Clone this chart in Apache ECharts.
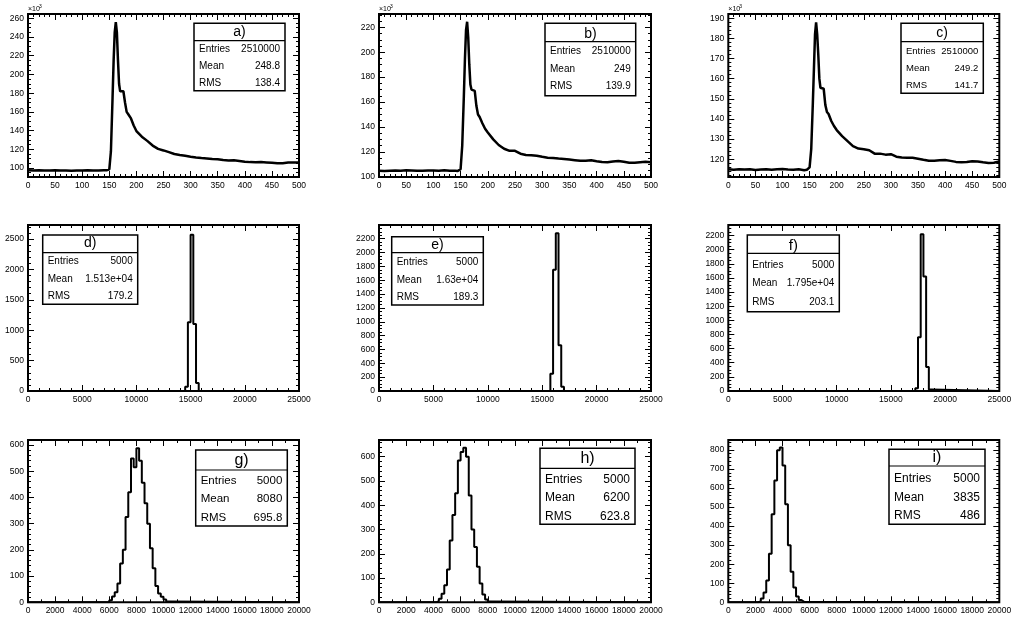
<!DOCTYPE html>
<html><head><meta charset="utf-8">
<script src="https://cdn.jsdelivr.net/npm/echarts@6/dist/echarts.min.js"></script>
<style>html,body{margin:0;padding:0;background:#fff}#c{width:1011px;height:617px}</style>
</head><body><div id="c"></div>
<script>
// ---------- DATA ----------
const curveX = [0,10,20,30,40,50,60,70,80,90,100,110,120,130,140,145,150,153,156,158,160,162,164,166,168,170,173,176,179,182,185,190,195,200,210,220,230,240,250,260,270,280,290,300,310,320,330,340,350,360,370,380,390,400,410,420,430,440,450,460,470,480,490,500];
const curveA = [97.6,97.4,97.5,97.3,97.4,97.5,97.3,97.4,97.2,97.4,97.3,97.5,97.3,97.4,97.6,97.5,98.5,118,175,215,245,256,245,215,190,182,183,182,170,160,157.5,153,145.5,139.5,133.5,129,124,120.5,118.8,117,115,114,113,112,111.2,110.6,110.2,109.6,109.3,108.5,108,108.2,107.5,106.8,106.3,106.2,106.3,106,105.7,105,105.2,105.9,106,106];
const curveB = [104.8,104.6,104.9,105.1,104.8,105.2,105,104.8,104.9,105.1,105,104.9,105.2,104.8,104.9,104.7,106,125,165,195,218,224.5,212,190,174,170,170.5,169,157,150,148,143,138.5,135.5,130,125.5,122.5,120.8,120.8,118.5,117.5,117.3,116.8,116,115.3,115,114.6,114.3,113.8,113.3,112.8,112.8,113.3,112.5,111.8,111.7,112.2,112.6,112,111.3,111.2,111.7,112,111.6];
const curveC = [115,114.8,115.1,114.9,115,114.7,114.9,115.1,114.8,115,115.2,114.9,114.8,115,114.6,114.8,116,125,148,165,182,188,182,172,160,155.5,155.8,155,147,143.5,142.5,139,136.5,134.5,131.5,129,126.5,125.3,125,124.5,122.8,122.8,122.3,122.5,121.3,120.9,120.8,120.7,120.3,119.8,119.3,119.3,119.5,119.6,119.2,118.7,118.5,118.6,119,118.9,118.5,118.2,118.3,118.9];

const binWidthMid = 250;   // histograms d, e, f
const binWidthLow = 200;   // histograms g, h, i
const dStart = 14500, dCounts = [70,1130,2570,1100,130];
const eStart = 15750, eCounts = [250,1750,2280,660,60];
const fStart = 17250, fCounts = [40,760,2220,1620,340,20];
const gStart = 6000,  gCounts = [8,22,38,72,148,200,325,420,548,515,588,540,456,378,300,206,130,62,34,21,11,3];
const hStart = 4200,  hCounts = [5,15,35,70,135,255,360,450,585,620,637,600,440,300,228,147,78,32,12,3];
const iStart = 2200,  iCounts = [5,20,52,115,255,462,640,798,812,718,515,300,160,78,30,12,3];

const titles = ['a)','b)','c)','d)','e)','f)','g)','h)','i)'];
const statsNames = ['Entries','Mean','RMS'];
const statsA = ['2510000','248.8','138.4'];
const statsB = ['2510000','249','139.9'];
const statsC = ['2510000','249.2','141.7'];
const statsD = ['5000','1.513e+04','179.2'];
const statsE = ['5000','1.63e+04','189.3'];
const statsF = ['5000','1.795e+04','203.1'];
const statsG = ['5000','8080','695.8'];
const statsH = ['5000','6200','623.8'];
const statsI = ['5000','3835','486'];
const expLabel = ['×10','3'];

// ---------- BUILD ----------
function histPoints(start, w, counts, xMin, xMax) {
  const pts = [[xMin, 0], [start, 0]];
  counts.forEach((c, k) => { pts.push([start + k * w, c]); pts.push([start + (k + 1) * w, c]); });
  pts.push([start + counts.length * w, 0]); pts.push([xMax, 0]);
  return pts;
}
const curvePts = ys => curveX.map((x, j) => [x, ys[j]]);

const panels = [
  {pts: curvePts(curveA), xMin:0, xMax:500, xInt:50, xMinor:5, yMin:90.4, yMax:264.6, ySplit:8, yMinor:4, exp:true, stats:statsA, lw:2.5},
  {pts: curvePts(curveB), xMin:0, xMax:500, xInt:50, xMinor:5, yMin:99.8, yMax:230.7, ySplit:6, yMinor:4, exp:true, stats:statsB, lw:2.5},
  {pts: curvePts(curveC), xMin:0, xMax:500, xInt:50, xMinor:5, yMin:111.2, yMax:192.1, ySplit:8, yMinor:5, exp:true, stats:statsC, lw:2.5},
  {pts: histPoints(dStart, binWidthMid, dCounts, 0, 25000), xMin:0, xMax:25000, xInt:5000, xMinor:5, yMin:0, yMax:2730, yInt:500, yMinor:5, stats:statsD, lw:2},
  {pts: histPoints(eStart, binWidthMid, eCounts, 0, 25000), xMin:0, xMax:25000, xInt:5000, xMinor:5, yMin:0, yMax:2398, yInt:200, yMinor:4, stats:statsE, lw:2},
  {pts: histPoints(fStart, binWidthMid, fCounts, 0, 25000), xMin:0, xMax:25000, xInt:5000, xMinor:5, yMin:0, yMax:2350, yInt:200, yMinor:4, stats:statsF, lw:2},
  {pts: histPoints(gStart, binWidthLow, gCounts, 0, 20000), xMin:0, xMax:20000, xInt:2000, xMinor:2, yMin:0, yMax:619, yInt:100, yMinor:5, stats:statsG, lw:2},
  {pts: histPoints(hStart, binWidthLow, hCounts, 0, 20000), xMin:0, xMax:20000, xInt:2000, xMinor:2, yMin:0, yMax:669, yInt:100, yMinor:5, stats:statsH, lw:2},
  {pts: histPoints(iStart, binWidthLow, iCounts, 0, 20000), xMin:0, xMax:20000, xInt:2000, xMinor:2, yMin:0, yMax:852, yInt:100, yMinor:5, stats:statsI, lw:2}
];

// layout: grid [left, top, width, height]; box [left, top, width, height]; sep offset; row centers; title center y; font sizes
const layout = [
  {grid:[28,14,271,163],    box:[194,23.3,91,67.4],   sep:17.4, rows:[49.3,66.7,83.3],    ty:32.3,  fs:10,  ts:14},
  {grid:[379,14,272,163],   box:[545,23.3,90.7,72.4], sep:18.4, rows:[51,69,86.7],        ty:34.3,  fs:10,  ts:14},
  {grid:[728.3,14,271,163], box:[901,23.3,82.3,70],   sep:18.4, rows:[51,68.3,85.7],      ty:33,    fs:9.5, ts:14},
  {grid:[28,225,271,166],   box:[42.7,235,95,69.3],   sep:17.7, rows:[261.7,279,296.7],   ty:243.3, fs:10,  ts:14},
  {grid:[379,225,272,166],  box:[391.7,236.7,91.6,68.3], sep:16, rows:[262.3,280,297.3],  ty:245,   fs:10,  ts:14},
  {grid:[728.3,225,271,166],box:[747.3,235,92,76.7],  sep:18.3, rows:[265,283.3,302.7],   ty:246,   fs:10,  ts:15},
  {grid:[28,440,271,162.3], box:[195.7,450,91.6,76],  sep:20,   rows:[480.7,499,518.3],   ty:460.7, fs:11.5, ts:16},
  {grid:[379,440,272,162.3],box:[540,448.3,95,76],    sep:20,   rows:[479.3,497.7,516.7], ty:458.3, fs:12,  ts:16},
  {grid:[728.3,440,271,162.3],box:[889,449.3,96,75],  sep:16.7, rows:[479,497.3,516],     ty:457.3, fs:12,  ts:16}
];

const fontFam = "'Liberation Sans', Arial, Helvetica, sans-serif";
const plain = v => String(Math.round(v * 1000) / 1000);
const grids = [], xAxes = [], yAxes = [], series = [], graphics = [];
panels.forEach((p, i) => {
  const L = layout[i];
  grids.push({left:L.grid[0], top:L.grid[1], width:L.grid[2], height:L.grid[3], show:true,
    borderColor:'#000', borderWidth:2, backgroundColor:'#fff', containLabel:false, outerBoundsMode:'none'});
  const tick = {show:true, inside:true, length:6, lineStyle:{color:'#000', width:1}};
  const minor = n => ({show:true, splitNumber:n, length:3, lineStyle:{color:'#000', width:1}});
  const lab = {show:true, fontSize:8.5, color:'#000', margin:4, fontFamily:fontFam, formatter:plain};
  const xBase = {type:'value', gridIndex:i, min:p.xMin, max:p.xMax, interval:p.xInt,
    axisLine:{show:false, onZero:false}, splitLine:{show:false}, minorSplitLine:{show:false},
    axisTick:tick, minorTick:minor(p.xMinor)};
  xAxes.push(Object.assign({}, xBase, {position:'bottom', axisLabel:lab}));
  xAxes.push(Object.assign({}, xBase, {position:'top', axisLabel:{show:false}}));
  const yBase = {type:'value', gridIndex:i, min:p.yMin, max:p.yMax,
    axisLine:{show:false, onZero:false}, splitLine:{show:false}, minorSplitLine:{show:false},
    axisTick:tick, minorTick:minor(p.yMinor)};
  if (p.yInt) yBase.interval = p.yInt; else yBase.splitNumber = p.ySplit;
  yAxes.push(Object.assign({}, yBase, {position:'left',
    axisLabel:Object.assign({}, lab, {showMinLabel: !!p.yInt, showMaxLabel:false})}));
  yAxes.push(Object.assign({}, yBase, {position:'right', axisLabel:{show:false}}));
  series.push({type:'line', xAxisIndex:2*i, yAxisIndex:2*i, data:p.pts, showSymbol:false, symbol:'none',
    lineStyle:{color:'#000', width:p.lw}, clip:true, animation:false, z:3});

  // stats box
  const [bx, by, bw, bh] = L.box;
  graphics.push({type:'rect', z:100, shape:{x:bx, y:by, width:bw, height:bh}, style:{fill:'#fff', stroke:'#000', lineWidth:1.5}});
  graphics.push({type:'line', z:101, shape:{x1:bx, y1:by+L.sep, x2:bx+bw, y2:by+L.sep}, style:{stroke:'#000', lineWidth:1.2}});
  graphics.push({type:'text', z:102, x:bx+bw/2, y:L.ty, style:{text:titles[i], fontSize:L.ts, fontFamily:fontFam, fill:'#000', align:'center', verticalAlign:'middle'}});
  statsNames.forEach((nm, r) => {
    graphics.push({type:'text', z:102, x:bx+5, y:L.rows[r], style:{text:nm, fontSize:L.fs, fontFamily:fontFam, fill:'#000', align:'left', verticalAlign:'middle'}});
    graphics.push({type:'text', z:102, x:bx+bw-5, y:L.rows[r], style:{text:p.stats[r], fontSize:L.fs, fontFamily:fontFam, fill:'#000', align:'right', verticalAlign:'middle'}});
  });
  if (p.exp) {
    graphics.push({type:'text', z:102, x:L.grid[0], y:12.5, style:{text:expLabel[0], fontSize:7, fontFamily:fontFam, fill:'#000', align:'left', verticalAlign:'bottom'}});
    graphics.push({type:'text', z:102, x:L.grid[0]+11, y:9, style:{text:expLabel[1], fontSize:5, fontFamily:fontFam, fill:'#000', align:'left', verticalAlign:'bottom'}});
  }
});

const chart = echarts.init(document.getElementById('c'), null, {renderer:'canvas', width:1011, height:617});
chart.setOption({animation:false, backgroundColor:'#fff', grid:grids, xAxis:xAxes, yAxis:yAxes, series:series, graphic:graphics});
</script></body></html>
